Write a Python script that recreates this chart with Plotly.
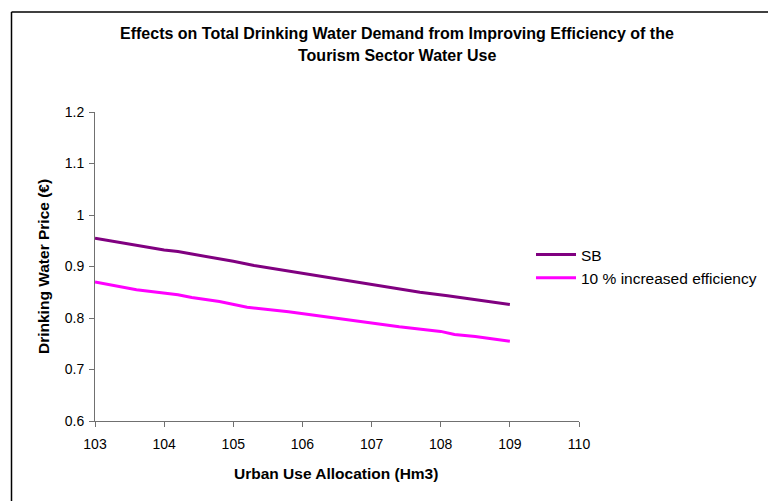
import plotly.graph_objects as go

# Data
sb_x = [103.0, 103.5, 104.0, 104.2, 104.6, 105.0, 105.3, 105.9, 106.8, 107.7, 108.1, 108.5, 109.0]
sb_y = [0.955, 0.943, 0.932, 0.929, 0.920, 0.910, 0.902, 0.889, 0.870, 0.850, 0.843, 0.836, 0.826]
eff_x = [103.0, 103.6, 104.2, 104.4, 104.8, 105.2, 105.8, 106.6, 107.1, 107.4, 108.0, 108.2, 108.5, 109.0]
eff_y = [0.870, 0.855, 0.845, 0.840, 0.832, 0.821, 0.812, 0.797, 0.789, 0.783, 0.774, 0.768, 0.764, 0.755]
series_names = ["SB", "10 % increased efficiency"]
x_ticks = [103, 104, 105, 106, 107, 108, 109, 110]
y_ticks = [0.6, 0.7, 0.8, 0.9, 1.0, 1.1, 1.2]
y_tick_labels = ["0.6", "0.7", "0.8", "0.9", "1", "1.1", "1.2"]

FONT = "Liberation Sans, Arial, sans-serif"

fig = go.Figure()
fig.add_trace(go.Scatter(x=sb_x, y=sb_y, mode="lines", name=series_names[0],
                         line=dict(color="#800080", width=3)))
fig.add_trace(go.Scatter(x=eff_x, y=eff_y, mode="lines", name=series_names[1],
                         line=dict(color="#FF00FF", width=3)))

# page has an 8px body margin; figure sized to fit the 776x501 window
OFF = 8
W, H = 768, 493
L, T = 87, 104
R = W - (579 - OFF)
B = H - (421 - OFF)
pw, ph = W - L - R, H - T - B

def px_x(p):  # page pixel -> paper x
    return (p - OFF - L) / pw

def px_y(p):  # page pixel -> paper y
    return (H - B - (p - OFF)) / ph

axis_common = dict(showgrid=False, zeroline=False, showline=True, linecolor="#707070",
                   linewidth=1, ticks="outside", ticklen=5, tickcolor="#707070",
                   tickfont=dict(size=14), fixedrange=True)

fig.update_layout(
    width=W, height=H,
    margin=dict(l=L, r=R, t=T, b=B, autoexpand=False),
    paper_bgcolor="white", plot_bgcolor="white",
    font=dict(family=FONT, size=14, color="black"),
    showlegend=True,
    legend=dict(x=px_x(531), y=px_y(238), xanchor="left", yanchor="top",
                font=dict(size=15.5, family=FONT), bgcolor="rgba(0,0,0,0)",
                itemwidth=40, tracegroupgap=0),
    xaxis=dict(range=[103, 110], tickmode="array", tickvals=x_ticks,
               ticktext=[str(v) for v in x_ticks], ticklabelstandoff=5, **axis_common),
    yaxis=dict(range=[0.6, 1.2], tickmode="array", tickvals=y_ticks,
               ticktext=y_tick_labels, ticklabelstandoff=2, **axis_common),
    shapes=[
        dict(type="line", xref="paper", yref="paper", x0=px_x(11.5), x1=px_x(800),
             y0=px_y(12), y1=px_y(12), line=dict(color="black", width=1.5)),
        dict(type="line", xref="paper", yref="paper", x0=px_x(11.5), x1=px_x(11.5),
             y0=px_y(12), y1=px_y(520), line=dict(color="black", width=1.5)),
    ],
    annotations=[
        dict(text="<b>Effects on Total Drinking Water Demand from Improving Efficiency of the</b>",
             xref="paper", yref="paper", x=px_x(397), y=px_y(34), showarrow=False,
             xanchor="center", yanchor="middle", font=dict(size=16)),
        dict(text="<b>Tourism Sector Water Use</b>",
             xref="paper", yref="paper", x=px_x(397), y=px_y(55), showarrow=False,
             xanchor="center", yanchor="middle", font=dict(size=16)),
        dict(text="<b>Urban Use Allocation (Hm3)</b>",
             xref="paper", yref="paper", x=px_x(336), y=px_y(473), showarrow=False,
             xanchor="center", yanchor="middle", font=dict(size=15.5)),
        dict(text="<b>Drinking Water Price (€)</b>", textangle=-90,
             xref="paper", yref="paper", x=px_x(43), y=px_y(267), showarrow=False,
             xanchor="center", yanchor="middle", font=dict(size=15.5)),
    ],
)

fig.write_html("out.html")
